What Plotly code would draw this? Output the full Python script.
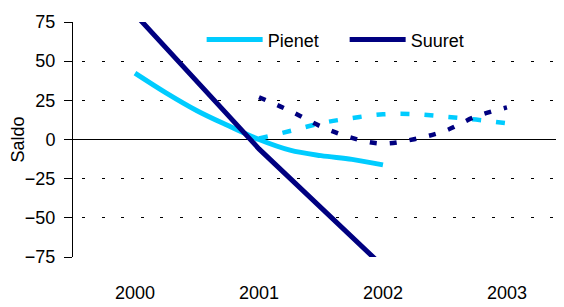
import plotly.graph_objects as go

# --- data ---
t_pienet = [2000, 2000.25, 2000.5, 2000.75, 2001, 2001.25, 2001.5, 2001.75, 2002]
pienet = [42.4, 29.8, 18.4, 8.9, 0.0, -6.8, -10.3, -12.7, -16.2]

t_suuret = [2000, 2001, 2002]
suuret = [80, -6.0, -81]

t_fore = [2001, 2001.25, 2001.5, 2001.75, 2002, 2002.25, 2002.5, 2002.75, 2003]
pienet_fore = [0.7, 5.4, 10.4, 13.7, 16.1, 16.2, 14.6, 12.7, 10.3]
suuret_fore = [27.0, 18.3, 8.3, 1.0, -2.6, 0.2, 5.5, 14.7, 20.5]

year_ticks = [2000, 2001, 2002, 2003]
year_labels = ["2000", "2001", "2002", "2003"]
y_ticks = [-75, -50, -25, 0, 25, 50, 75]

CYAN = "#00CCFF"
NAVY = "#000080"
FONT = "Liberation Sans, Arial, sans-serif"

fig = go.Figure()
fig.add_trace(go.Scatter(x=t_fore, y=pienet_fore, mode="lines", showlegend=False,
                         line=dict(color=CYAN, width=4.5, dash="9px,15px", shape="spline", smoothing=1)))
fig.add_trace(go.Scatter(x=t_fore, y=suuret_fore, mode="lines", showlegend=False,
                         line=dict(color=NAVY, width=4.5, dash="7px,13px", shape="spline", smoothing=1)))
fig.add_trace(go.Scatter(x=t_pienet, y=pienet, mode="lines", name="Pienet",
                         line=dict(color=CYAN, width=5, shape="spline", smoothing=1)))
fig.add_trace(go.Scatter(x=t_suuret, y=suuret, mode="lines", name="Suuret",
                         line=dict(color=NAVY, width=5)))

fig.update_layout(
    width=556, height=299,
    margin=dict(l=65, r=0, t=14, b=50, autoexpand=False),
    paper_bgcolor="white", plot_bgcolor="white",
    font=dict(family=FONT, size=18, color="black"),
    legend=dict(orientation="h", x=0.262, xanchor="left", y=0.924, yanchor="middle",
                bgcolor="rgba(0,0,0,0)", font=dict(family=FONT, size=18),
                itemwidth=56, entrywidth=72, entrywidthmode="pixels"),
    xaxis=dict(range=[1999.5, 2003.46], tickmode="array", tickvals=year_ticks, ticktext=year_labels,
               showgrid=False, zeroline=False, showline=False, ticks="", automargin=False,
               ticklabelstandoff=23, tickfont=dict(family=FONT, size=18)),
    yaxis=dict(range=[-75, 75], tickmode="array", tickvals=y_ticks, automargin=False,
               showgrid=True, gridcolor="black", gridwidth=1, griddash="0px,9px,3px,7.5px",
               zeroline=True, zerolinecolor="black", zerolinewidth=1,
               showline=True, linecolor="black", linewidth=1,
               ticks="outside", ticklen=8, tickcolor="black",
               ticklabelstandoff=5, tickfont=dict(family=FONT, size=18),
               title=dict(text="Saldo", font=dict(family=FONT, size=18), standoff=0)),
)

fig.write_html("out.html")
